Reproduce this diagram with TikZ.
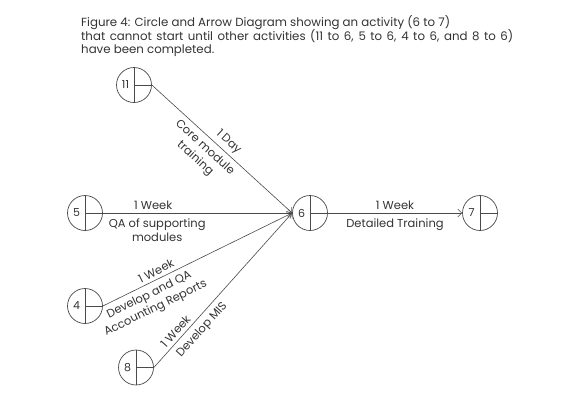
\documentclass[tikz,border=0pt]{standalone}
\usepackage{fontspec}
\setmainfont{Poppins}
\usetikzlibrary{arrows.meta}
\definecolor{ink}{HTML}{333333}
\definecolor{edge}{HTML}{4A4A4A}
\begin{document}
\begin{tikzpicture}[x=1pt,y=-1pt,
  ev/.style={circle,draw=edge,line width=0.7pt,minimum size=35pt,inner sep=0pt,
    path picture={\draw[edge,line width=0.7pt] (path picture bounding box.north)--(path picture bounding box.south);
                  \draw[edge,line width=0.7pt] (path picture bounding box.center)--(path picture bounding box.east);}},
  num/.style={font=\fontsize{11}{12}\selectfont,text=ink,inner sep=0pt},
  act/.style={draw=edge,line width=0.6pt,-{Straight Barb[length=4pt,width=8pt]}},
  lab/.style={font=\fontsize{11.5}{14.5}\selectfont,text=ink,align=center},
  up/.style={lab,above,inner sep=3.5pt},
  dn/.style={lab,below,inner sep=5pt},
  ttl/.style={font=\fontsize{11.8}{13}\selectfont,text=ink,inner sep=0pt,anchor=base west}]
\useasboundingbox (0,0) rectangle (575,407);
% title
\node[ttl] (ti1) at (81,26.5) {Figure 4: Circle and Arrow Diagram showing an activity (6 to 7)};
\node[ttl] (ti2) at (81,40) {\hbox to 432pt{that cannot start until other activities (11 to 6, 5 to 6, 4 to 6, and 8 to 6)}};
\node[ttl] (ti3) at (81,53.5) {have been completed.};
% events
\node[ev] (n11) at (134,85) {};
\node[ev] (n5) at (85,213) {};
\node[ev] (n4) at (85,306) {};
\node[ev] (n8) at (136,367.5) {};
\node[ev] (n6) at (310,213) {};
\node[ev] (n7) at (480,213) {};
\node[num] (t11) at ([xshift=-8.5pt]n11.center) {11};
\node[num] (t5) at ([xshift=-8.5pt]n5.center) {5};
\node[num] (t4) at ([xshift=-8.5pt]n4.center) {4};
\node[num] (t8) at ([xshift=-8.5pt]n8.center) {8};
\node[num] (t6) at ([xshift=-8.5pt]n6.center) {6};
\node[num] (t7) at ([xshift=-8.5pt]n7.center) {7};
% activities
\draw[act] (n11.east) -- (n6.west)
  node[up,sloped,pos=0.5] (l11a) {1 Day}
  node[dn,sloped,pos=0.43] (l11b) {Core module\\training};
\draw[act] (n5.east) -- (n6.west)
  node[up,pos=0.266] (l5a) {1 Week}
  node[dn,pos=0.287] (l5b) {QA of supporting\\modules};
\draw[act] (n4.east) -- (n6.west)
  node[up,sloped,pos=0.30] (l4a) {1 Week}
  node[dn,sloped,pos=0.22] (l4b) {Develop and QA\\Accounting Reports};
\draw[act] (n8.east) -- (n6.west)
  node[up,sloped,pos=0.20] (l8a) {1 Week}
  node[dn,sloped,pos=0.29] (l8b) {Develop MIS};
\draw[act] (n6.east) -- (n7.west)
  node[up,pos=0.5] (l6a) {1 Week}
  node[dn,pos=0.5] (l6b) {Detailed Training};
\end{tikzpicture}
\end{document}
